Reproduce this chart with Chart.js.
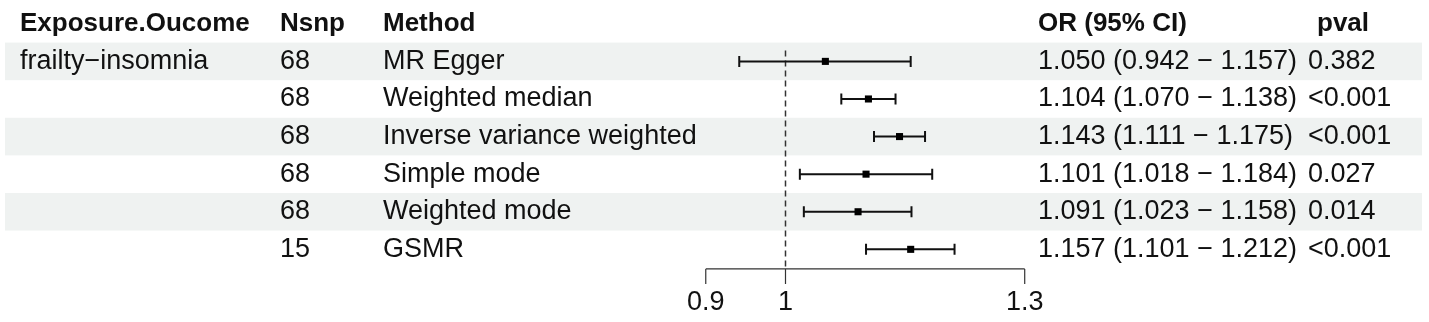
<!DOCTYPE html>
<html>
<head>
<meta charset="utf-8">
<script src="https://cdn.jsdelivr.net/npm/chart.js@4/dist/chart.umd.min.js"></script>
<style>
  html, body { margin: 0; padding: 0; background: #fff; }
  #forest { display: block; }
</style>
</head>
<body>
<canvas id="forest" width="1429" height="322"></canvas>
<script>
// データ
const exposures = ['frailty\u2212insomnia', '', '', '', '', ''];
const nsnp = ['68', '68', '68', '68', '68', '15'];
const methods = ['MR Egger', 'Weighted median', 'Inverse variance weighted', 'Simple mode', 'Weighted mode', 'GSMR'];
const orValues = [1.050, 1.104, 1.143, 1.101, 1.091, 1.157];
const ciLower = [0.942, 1.070, 1.111, 1.018, 1.023, 1.101];
const ciUpper = [1.157, 1.138, 1.175, 1.184, 1.158, 1.212];
const orLabels = [
    '1.050 (0.942 \u2212 1.157)',
    '1.104 (1.070 \u2212 1.138)',
    '1.143 (1.111 \u2212 1.175)',
    '1.101 (1.018 \u2212 1.184)',
    '1.091 (1.023 \u2212 1.158)',
    '1.157 (1.101 \u2212 1.212)'
];
const pvals = ['0.382', '<0.001', '<0.001', '0.027', '0.014', '<0.001'];
const headers = ['Exposure.Oucome', 'Nsnp', 'Method', 'OR (95% CI)', 'pval'];
const axisTicks = [0.9, 1, 1.3];
const refValue = 1;

const FONT = '"Liberation Sans", Arial, Helvetica, sans-serif';
const colX = [20, 280, 383, 1038, 1308];
const headerX = [20, 280, 383, 1038, 1317];
const bandColor = '#eff2f1';

// 背景の帯
const bandPlugin = {
    id: 'bands',
    beforeDatasetsDraw(chart) {
        const ctx = chart.ctx;
        const y = chart.scales.y;
        ctx.save();
        ctx.fillStyle = bandColor;
        methods.forEach((m, i) => {
            if (i % 2 !== 0) return;
            const top = y.getPixelForValue(i - 0.5);
            const bottom = y.getPixelForValue(i + 0.5);
            ctx.fillRect(5, top, 1417, bottom - top);
        });
        ctx.restore();
    }
};

// 参照線・信頼区間・軸
const forestPlugin = {
    id: 'forest',
    beforeDatasetsDraw(chart) {
        const ctx = chart.ctx;
        const x = chart.scales.x;
        const y = chart.scales.y;
        const axisY = y.getPixelForValue(5.52);

        // dashed reference line
        ctx.save();
        ctx.strokeStyle = '#333';
        ctx.lineWidth = 1.5;
        ctx.setLineDash([6, 4]);
        ctx.beginPath();
        ctx.moveTo(x.getPixelForValue(refValue), y.getPixelForValue(-0.29));
        ctx.lineTo(x.getPixelForValue(refValue), axisY);
        ctx.stroke();
        ctx.restore();

        // CI lines with caps
        ctx.save();
        ctx.strokeStyle = '#111';
        ctx.lineWidth = 2;
        orValues.forEach((v, i) => {
            const yy = y.getPixelForValue(i);
            const x1 = x.getPixelForValue(ciLower[i]);
            const x2 = x.getPixelForValue(ciUpper[i]);
            ctx.beginPath();
            ctx.moveTo(x1, yy); ctx.lineTo(x2, yy);
            ctx.moveTo(x1, yy - 5.5); ctx.lineTo(x1, yy + 5.5);
            ctx.moveTo(x2, yy - 5.5); ctx.lineTo(x2, yy + 5.5);
            ctx.stroke();
        });
        ctx.restore();

        // x axis
        ctx.save();
        ctx.strokeStyle = '#333';
        ctx.lineWidth = 1.2;
        const xa = x.getPixelForValue(axisTicks[0]);
        const xb = x.getPixelForValue(axisTicks[axisTicks.length - 1]);
        ctx.beginPath();
        ctx.moveTo(xa, axisY); ctx.lineTo(xb, axisY);
        axisTicks.forEach(t => {
            const tx = x.getPixelForValue(t);
            ctx.moveTo(tx, axisY); ctx.lineTo(tx, axisY + 15);
        });
        ctx.stroke();
        ctx.fillStyle = '#111';
        ctx.font = '27px ' + FONT;
        ctx.textAlign = 'center';
        ctx.textBaseline = 'middle';
        axisTicks.forEach(t => {
            ctx.fillText(String(t), x.getPixelForValue(t), y.getPixelForValue(6.42));
        });
        ctx.restore();
    }
};

// 表のテキスト
const tablePlugin = {
    id: 'table',
    afterDraw(chart) {
        const ctx = chart.ctx;
        const y = chart.scales.y;
        ctx.save();
        ctx.fillStyle = '#111';
        ctx.textAlign = 'left';
        ctx.textBaseline = 'middle';
        ctx.font = 'bold 26px ' + FONT;
        headers.forEach((h, j) => ctx.fillText(h, headerX[j], y.getPixelForValue(-1)));
        ctx.font = '27px ' + FONT;
        methods.forEach((m, i) => {
            const yy = y.getPixelForValue(i);
            const cells = [exposures[i], nsnp[i], m, orLabels[i], pvals[i]];
            cells.forEach((c, j) => ctx.fillText(c, colX[j], yy));
        });
        ctx.restore();
    }
};

const ctx = document.getElementById('forest').getContext('2d');
new Chart(ctx, {
    type: 'scatter',
    data: {
        datasets: [{
            label: 'OR',
            data: orValues.map((v, i) => ({ x: v, y: i })),
            pointStyle: 'rect',
            pointRadius: 5,
            backgroundColor: '#000',
            borderColor: '#000',
            borderWidth: 0
        }]
    },
    options: {
        responsive: false,
        devicePixelRatio: 1,
        animation: false,
        layout: { padding: 0 },
        plugins: { legend: { display: false }, tooltip: { enabled: false } },
        scales: {
            x: { type: 'linear', display: false, min: 1 - 786 / 803, max: 1 + 643 / 803 },
            y: { type: 'linear', display: false, reverse: true, min: -1.5, max: 6.8 }
        }
    },
    plugins: [bandPlugin, forestPlugin, tablePlugin]
});
</script>
</body>
</html>
